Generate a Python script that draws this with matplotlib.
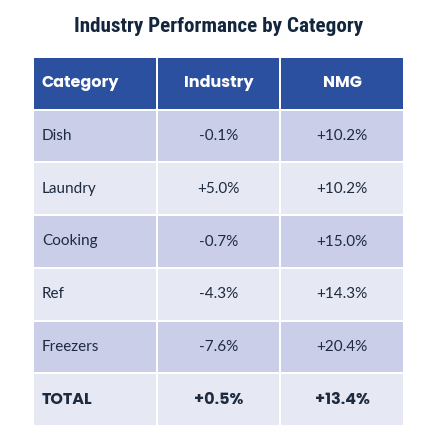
import matplotlib
matplotlib.use("Agg")
import matplotlib.pyplot as plt
from matplotlib.patches import Rectangle

title = "Industry Performance by Category"
columns = ["Category", "Industry", "NMG"]
categories = ["Dish", "Laundry", "Cooking", "Ref", "Freezers", "TOTAL"]
industry = ["-0.1%", "+5.0%", "-0.7%", "-4.3%", "-7.6%", "+0.5%"]
nmg = ["+10.2%", "+10.2%", "+15.0%", "+14.3%", "+20.4%", "+13.4%"]

header_color = "#2c50a0"
row_colors = ["#cbcee8", "#e6e8f3"]
text_color = "#1c2b40"

title_fonts = ["Roboto Condensed", "DejaVu Sans"]
body_fonts = ["Lato", "DejaVu Sans"]
bold_fonts = ["Poppins", "Lato", "DejaVu Sans"]

fig = plt.figure(figsize=(4.35, 4.40), dpi=100)
ax = fig.add_axes([0, 0, 1, 1])
ax.set_xlim(0, 435)
ax.set_ylim(440, 0)
ax.axis("off")

ax.text(219, 27, title, ha="center", va="center", fontsize=15.2,
        fontweight="bold", family=title_fonts, color="#13263d")

col_edges = [34, 157, 280, 403]
top, bottom = 58, 425
n_rows = len(categories) + 1
pitch = (bottom - top + 2) / n_rows
gap = 2

for r in range(n_rows):
    y0 = top + r * pitch
    h = pitch - gap
    if r == 0:
        fc = header_color
        vals = columns
    else:
        fc = row_colors[(r - 1) % 2]
        vals = [categories[r - 1], industry[r - 1], nmg[r - 1]]
    bold = r == 0 or r == n_rows - 1
    for c in range(3):
        x0 = col_edges[c] + (1 if c > 0 else 0)
        x1 = col_edges[c + 1] - (1 if c < 2 else 0)
        ax.add_patch(Rectangle((x0, y0), x1 - x0, h, facecolor=fc, edgecolor="none"))
        color = "white" if r == 0 else text_color
        if c == 0:
            tx, ha = x0 + 8, "left"
        else:
            tx, ha = (x0 + x1) / 2, "center"
        if bold:
            ax.text(tx, y0 + h / 2, vals[c], ha=ha, va="center", fontsize=11.5,
                    family=bold_fonts, fontweight="bold", color=color)
        else:
            ax.text(tx, y0 + h / 2, vals[c], ha=ha, va="center", fontsize=11,
                    family=body_fonts, color=color)

fig.savefig("out.png", dpi=100)
